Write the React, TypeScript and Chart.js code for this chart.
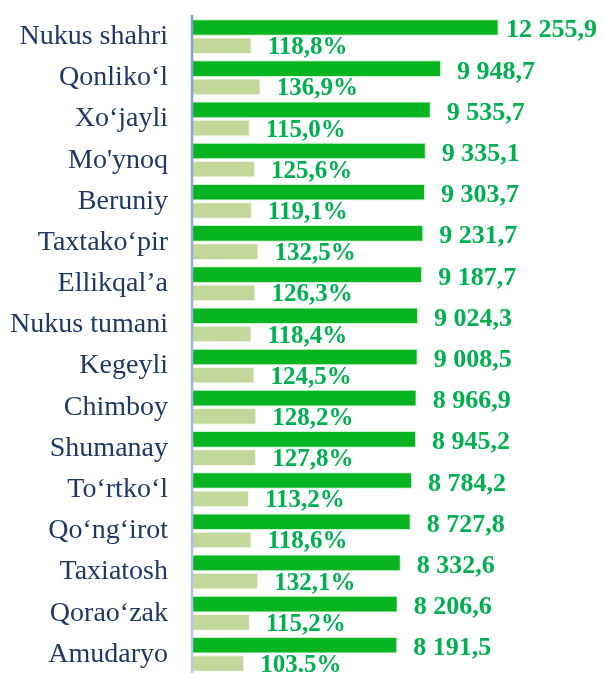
import React, { useEffect, useRef } from "react";
import { Chart, registerables } from "chart.js";

Chart.register(...registerables);

const categories = [
  "Nukus shahri", "Qonliko‘l", "Xo‘jayli", "Mo'ynoq", "Beruniy", "Taxtako‘pir",
  "Ellikqal’a", "Nukus tumani", "Kegeyli", "Chimboy", "Shumanay", "To‘rtko‘l",
  "Qo‘ng‘irot", "Taxiatosh", "Qorao‘zak", "Amudaryo",
];
const values = [
  12255.9, 9948.7, 9535.7, 9335.1, 9303.7, 9231.7, 9187.7, 9024.3,
  9008.5, 8966.9, 8945.2, 8784.2, 8727.8, 8332.6, 8206.6, 8191.5,
];
const percents = [
  118.8, 136.9, 115.0, 125.6, 119.1, 132.5, 126.3, 118.4,
  124.5, 128.2, 127.8, 113.2, 118.6, 132.1, 115.2, 103.5,
];
const percentLabels = [
  "118,8%", "136,9%", "115,0%", "125,6%", "119,1%", "132,5%", "126,3%", "118,4%",
  "124,5%", "128,2%", "127,8%", "113,2%", "118,6%", "132,1%", "115,2%", "103.5%",
];

const DARK = "#08B41F";
const LIGHT = "#C4D79B";
const LABEL = "#00B050";

function fmtValue(v: number): string {
  const [i, d] = v.toFixed(1).split(".");
  return i.replace(/\B(?=(\d{3})+(?!\d))/g, " ") + "," + d;
}

const labelPlugin = {
  id: "valueLabels",
  afterDatasetsDraw(chart: any) {
    const ctx = chart.ctx;
    ctx.save();
    const ca = chart.chartArea;
    const g = ctx.createLinearGradient(0, ca.top - 1, 0, chart.height);
    g.addColorStop(0, "#7F9FD0");
    g.addColorStop(1, "#B8CAE8");
    ctx.strokeStyle = g;
    ctx.lineWidth = 2.5;
    ctx.beginPath();
    ctx.moveTo(ca.left - 1, ca.top - 1);
    ctx.lineTo(ca.left - 1, chart.height);
    ctx.stroke();

    ctx.fillStyle = LABEL;
    ctx.textAlign = "left";
    ctx.textBaseline = "alphabetic";
    chart.data.datasets.forEach((_ds: any, di: number) => {
      const meta = chart.getDatasetMeta(di);
      ctx.font = di === 0 ? 'bold 26px "Liberation Serif"' : 'bold 25px "Liberation Serif"';
      meta.data.forEach((bar: any, i: number) => {
        const text = di === 0 ? fmtValue(values[i]) : percentLabels[i];
        const w = ctx.measureText(text).width;
        let x = bar.x + 16;
        if (x + w > chart.width - 7) x = chart.width - 7 - w;
        ctx.fillText(text, x, bar.y + (di === 0 ? 10 : 8.5));
      });
    });
    ctx.restore();
  },
};

export default function App() {
  const ref = useRef<HTMLCanvasElement | null>(null);
  useEffect(() => {
    if (!ref.current) return;
    const chart = new Chart(ref.current, {
      type: "bar",
      data: {
        labels: categories,
        datasets: [
          {
            data: values,
            backgroundColor: DARK,
            borderColor: "rgba(200,240,205,0.9)",
            borderWidth: 1,
            xAxisID: "x",
            categoryPercentage: 0.888,
            barPercentage: 0.91,
          },
          {
            data: percents,
            backgroundColor: LIGHT,
            borderColor: "rgba(240,245,230,0.9)",
            borderWidth: 1,
            xAxisID: "x2",
            categoryPercentage: 0.888,
            barPercentage: 0.91,
          },
        ],
      },
      options: {
        indexAxis: "y",
        responsive: false,
        maintainAspectRatio: false,
        animation: false,
        layout: { padding: { top: 16, bottom: 0, left: 0, right: 0 } },
        plugins: { legend: { display: false }, tooltip: { enabled: false } },
        scales: {
          x: { type: "linear", min: 0, max: 16480, display: false },
          x2: { type: "linear", min: 0, max: 832, display: false },
          y: {
            grid: { display: false, drawTicks: false },
            border: { display: false },
            ticks: {
              color: "#1F3864",
              padding: 25,
              font: { family: '"Liberation Serif"', size: 28 },
            },
            afterFit(scale: any) {
              scale.width = 193;
              scale.paddingTop = 0;
              scale.paddingBottom = 0;
            },
          },
        },
      } as any,
      plugins: [labelPlugin],
    });
    return () => chart.destroy();
  }, []);
  return (
    <div
      style={{
        position: "fixed",
        left: 0,
        top: 0,
        width: 604,
        height: 673,
        overflow: "hidden",
        background: "#fff",
      }}
    >
      <canvas ref={ref} width={604} height={675} style={{ display: "block" }} />
    </div>
  );
}
